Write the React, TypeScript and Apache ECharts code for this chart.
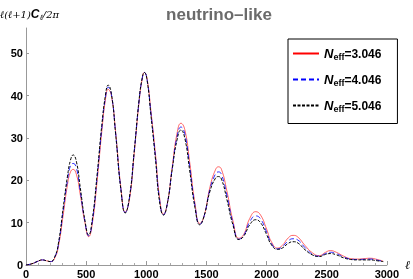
import React, { useEffect, useRef } from "react";
import * as echarts from "echarts";

const ell = [0,50,100,135,170,205,240,270,310,345,370,392,420,450,490,521,550,590,630,660,683,710,745,790,825,860,900,940,965,984,1005,1040,1077,1110,1143,1175,1215,1255,1288,1320,1360,1405,1445,1480,1530,1575,1600,1625,1670,1720,1770,1810,1860,1910,1950,2000,2040,2090,2130,2180,2220,2260,2320,2380,2437,2490,2530,2580,2640,2700,2760,2810,2860,2920,2970];

const neff3 = [0,0.3,0.9,1.2,1.0,0.8,1.7,4.5,12,19,22,22.6,21.3,16.8,10,6.7,9.5,19.5,31.5,39,41.5,40,31.5,18,12.5,15.5,26.5,38.5,43.8,45.5,44.3,36,26,16,12,14.5,23,31,33.5,32,24.5,14.5,9.8,11.5,18.5,22.5,23.2,22.6,17.5,10.5,6.3,7.2,11,12.6,11.8,8.5,5.5,4.0,4.6,6.4,7.0,6.6,4.6,2.9,2.2,3.0,3.4,3.0,2.1,1.5,1.4,1.5,1.6,1.3,0.9];

const neff4 = [0,0.3,0.9,1.2,1.0,0.8,1.9,4.9,13,20,23.5,24,22.8,17.6,10.2,6.9,10,20.3,32.3,39.5,42,40.3,31.2,17.7,12.4,15.8,26.8,38.8,43.9,45.5,44.1,35.5,25.4,15.5,11.9,14.5,22.7,30.2,32.6,31,23.5,14,9.6,11.5,18,21.5,22,21.4,16.5,10,6.1,7,10.2,11.6,10.9,7.8,5.1,3.8,4.3,5.7,6.2,5.9,4.1,2.6,2.1,2.7,3.0,2.7,1.9,1.4,1.3,1.35,1.4,1.15,0.85];

const neff5 = [0,0.3,0.9,1.2,1.0,0.8,2.0,5.2,13.7,21,24.8,26,24.3,18.5,10.5,7.1,10.5,21,33,40,42.5,40.5,31,17.5,12.3,16,27,39,44,45.5,44,35,24.8,15,11.8,14.5,22.5,29.5,31.9,30,22.5,13.5,9.5,11.5,17.5,20.5,20.9,20.3,15.5,9.5,6.0,6.8,9.5,10.7,10,7.2,4.8,3.7,4,5.1,5.5,5.2,3.6,2.4,2.0,2.5,2.7,2.4,1.7,1.3,1.2,1.2,1.2,1.0,0.8];

const seriesNames = ["3.046", "4.046", "5.046"];
const seriesColors = ["#ff0000", "#0000ff", "#000000"];
const xTicks = [0, 500, 1000, 1500, 2000, 2500, 3000];

const FONT = "Liberation Sans, Arial, sans-serif";

export default function App() {
  const ref = useRef<HTMLDivElement>(null);
  useEffect(() => {
    if (!ref.current) return;
    const chart = echarts.init(ref.current, null, { renderer: "svg" });
    const values = [neff3, neff4, neff5];
    const dashes: any[] = ["solid", [5, 3], [3, 1.5]];
    const widths = [0.8, 1, 1];
    const opac = [0.75, 0.85, 1];
    chart.setOption({
      animation: false,
      textStyle: { fontFamily: FONT },
      title: {
        text: "neutrino\u2013like",
        left: 214,
        textAlign: "center",
        top: 1,
        textStyle: { color: "#6b6b6b", fontSize: 17, fontWeight: "bold", fontFamily: FONT },
      },
      grid: { left: 26, right: 11, top: 28, bottom: 14, containLabel: false },
      legend: {
        orient: "vertical",
        left: 288,
        top: 39,
        padding: [8, 16, 10, 4],
        itemWidth: 26,
        itemHeight: 14,
        itemGap: 11.5,
        borderColor: "#000",
        borderWidth: 1,
        itemStyle: { opacity: 0 },
        lineStyle: { opacity: 1 },
        data: seriesNames.map((n) => "Neff=" + n),
        formatter: (name: string) => "{n|N}{s|eff}{v|" + name.slice(4) + "}",
        textStyle: {
          fontFamily: FONT,
          rich: {
            n: { fontStyle: "italic", fontWeight: "bold", fontSize: 13, lineHeight: 16, color: "#000", fontFamily: FONT },
            s: { fontWeight: "bold", fontSize: 9, lineHeight: 10, verticalAlign: "bottom", color: "#000", fontFamily: FONT },
            v: { fontWeight: "bold", fontSize: 12, lineHeight: 16, color: "#000", fontFamily: FONT },
          },
        },
      },
      xAxis: {
        type: "value",
        min: 0,
        max: 3000,
        interval: 500,
        name: "\u2113",
        nameLocation: "end",
        nameGap: 1,
        nameTextStyle: { fontStyle: "italic", fontSize: 12, color: "#000", padding: [0, 0, 6, 0], fontFamily: "DejaVu Serif, serif" },
        axisLine: { lineStyle: { color: "#999", width: 1 } },
        axisTick: { show: true, inside: true, length: 4, lineStyle: { color: "#999" } },
        minorTick: { show: true, splitNumber: 5, length: 2, lineStyle: { color: "#aaa" } },
        splitLine: { show: false },
        axisLabel: {
          color: "#000",
          fontWeight: "bold",
          fontSize: 11,
          margin: 3,
          fontFamily: FONT,
          formatter: (v: number) => (xTicks.includes(v) ? String(v) : ""),
        },
      },
      yAxis: {
        type: "value",
        min: 0,
        max: 56,
        interval: 10,
        axisLine: { show: true, lineStyle: { color: "#999", width: 1 } },
        axisTick: { show: true, inside: true, length: 3, lineStyle: { color: "#999" } },
        splitLine: { show: false },
        axisLabel: {
          color: "#000",
          fontWeight: "bold",
          fontSize: 11,
          margin: 3,
          showMaxLabel: false,
          fontFamily: FONT,
          formatter: (v: number) => (v % 10 === 0 ? String(v) : ""),
        },
      },
      graphic: [
        {
          type: "text",
          left: 0,
          top: 8,
          style: {
            text: "{i|\u2113(\u2113+1)}{c|C}{s|\u2113}{i|/2\u03c0}",
            rich: {
              i: { fontStyle: "italic", fontSize: 10, lineHeight: 14, fill: "#000", fontFamily: "DejaVu Serif, serif" },
              c: { fontStyle: "italic", fontWeight: "bold", fontSize: 12, lineHeight: 14, fill: "#000", fontFamily: FONT },
              s: { fontStyle: "italic", fontSize: 8, lineHeight: 9, verticalAlign: "bottom", fill: "#000", fontFamily: "DejaVu Serif, serif" },
            },
          },
        },
      ],
      series: values.map((vals, k) => ({
        name: "Neff=" + seriesNames[k],
        type: "line",
        data: ell.map((l, i) => [l, vals[i]]),
        showSymbol: false,
        symbol: "none",
        smooth: 0.5,
        color: seriesColors[k],
        lineStyle: { color: seriesColors[k], width: widths[k], type: dashes[k], opacity: opac[k] },
        z: 2 + k,
      })),
    });
    return () => chart.dispose();
  }, []);
  return <div ref={ref} style={{ position: "fixed", left: 0, top: 0, width: 413, height: 279 }} />;
}
